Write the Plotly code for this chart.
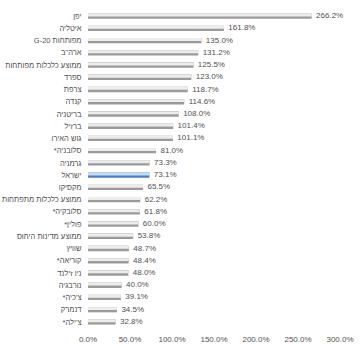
import plotly.graph_objects as go

# Categories, top to bottom
countries = [
    "יפן", "איטליה", "מפותחות G-20", "ארה\"ב", "ממוצע כלכלות מפותחות",
    "ספרד", "צרפת", "קנדה", "בריטניה", "ברזיל", "גוש האירו", "סלובניה*",
    "גרמניה", "ישראל", "מקסיקו", "ממוצע כלכלות מתפתחות", "סלובקיה*",
    "פולין*", "ממוצע מדינות היחוס", "שוויץ", "קוריאה*", "ניו זילנד",
    "נורבגיה", "צ'כיה*", "דנמרק", "צ'ילה*",
]
# Debt as percent of GDP
values = [
    266.2, 161.8, 135.0, 131.2, 125.5, 123.0, 118.7, 114.6, 108.0, 101.4,
    101.1, 81.0, 73.3, 73.1, 65.5, 62.2, 61.8, 60.0, 53.8, 48.7, 48.4,
    48.0, 40.0, 39.1, 34.5, 32.8,
]
highlight = "ישראל"
x_ticks = [0, 50, 100, 150, 200, 250, 300]
x_tick_text = ["0.0%", "50.0%", "100.0%", "150.0%", "200.0%", "250.0%", "300.0%"]

# Right-to-left embedding so Hebrew labels read correctly
rtl_labels = ["\u202b" + c + "\u202c" for c in countries]

edge_colors = ["#4a7ebb" if c == highlight else "#9a9a9a" for c in countries]
face_colors = ["#c6dcf2" if c == highlight else "#ededed" for c in countries]

FONT = "Liberation Sans, DejaVu Sans, Arial, sans-serif"
TEXT = "#505050"

fig = go.Figure()
# darker body of each bar
fig.add_trace(go.Bar(
    y=rtl_labels, x=values, orientation="h",
    width=0.44,
    marker=dict(color=edge_colors, line=dict(width=0)),
    hoverinfo="skip",
))
# lighter highlight on the upper face
fig.add_trace(go.Bar(
    y=rtl_labels, x=values, orientation="h",
    width=0.24, offset=-0.21,
    marker=dict(color=face_colors, line=dict(width=0)),
    hoverinfo="skip",
))
# value labels at the end of each bar
fig.add_trace(go.Scatter(
    y=rtl_labels, x=values, mode="text",
    text=[f"  {v:.1f}%" for v in values],
    textposition="middle right",
    textfont=dict(size=8, color=TEXT, family=FONT),
    cliponaxis=False,
    hoverinfo="skip",
))

n = len(countries)
fig.update_layout(
    width=360, height=347,
    margin=dict(l=88, r=20, t=10, b=19),
    paper_bgcolor="white", plot_bgcolor="white",
    barmode="overlay",
    showlegend=False,
    font=dict(family=FONT, size=8, color=TEXT),
    xaxis=dict(
        range=[0, 300], tickvals=x_ticks, ticktext=x_tick_text,
        showgrid=False, zeroline=False, showline=False,
        ticks="outside", ticklen=3, tickcolor="rgba(0,0,0,0)",
        tickfont=dict(size=8, color=TEXT), automargin=False,
    ),
    yaxis=dict(
        range=[n - 0.5, -0.5], showgrid=False, zeroline=False, showline=False,
        ticks="outside", ticklen=4, tickcolor="rgba(0,0,0,0)",
        tickfont=dict(size=7.5, color=TEXT), automargin=False,
    ),
)

fig.write_html("out.html")
